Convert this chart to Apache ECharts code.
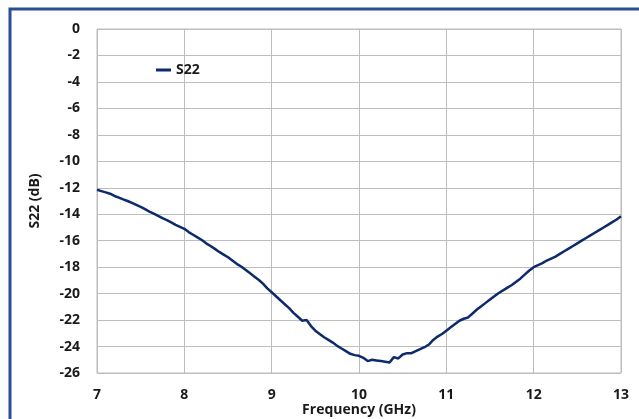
<!DOCTYPE html>
<html>
<head>
<meta charset="utf-8">
<script src="https://cdn.jsdelivr.net/npm/echarts@6/dist/echarts.min.js"></script>
<style>
  html, body { margin: 0; padding: 0; background: #fff; }
  #chart { width: 639px; height: 419px; }
</style>
</head>
<body>
<div id="chart"></div>
<script>
// frequency (GHz) and S22 (dB)
var freq = [7.00, 7.05, 7.10, 7.15, 7.20, 7.25, 7.30, 7.35, 7.40, 7.45,
    7.50, 7.55, 7.60, 7.65, 7.70, 7.75, 7.80, 7.85, 7.90, 7.95,
    8.00, 8.05, 8.10, 8.15, 8.20, 8.25, 8.30, 8.35, 8.40, 8.45,
    8.50, 8.55, 8.60, 8.65, 8.70, 8.75, 8.80, 8.85, 8.90, 8.95,
    9.00, 9.05, 9.10, 9.15, 9.20, 9.25, 9.30, 9.35, 9.40, 9.45,
    9.50, 9.55, 9.60, 9.65, 9.70, 9.75, 9.80, 9.85, 9.90, 9.95,
    10.00, 10.05, 10.10, 10.15, 10.20, 10.25, 10.30, 10.35, 10.40, 10.45,
    10.50, 10.55, 10.60, 10.65, 10.70, 10.75, 10.80, 10.85, 10.90, 10.95,
    11.00, 11.05, 11.10, 11.15, 11.20, 11.25, 11.30, 11.35, 11.40, 11.45,
    11.50, 11.55, 11.60, 11.65, 11.70, 11.75, 11.80, 11.85, 11.90, 11.95,
    12.00, 12.05, 12.10, 12.15, 12.20, 12.25, 12.30, 12.35, 12.40, 12.45,
    12.50, 12.55, 12.60, 12.65, 12.70, 12.75, 12.80, 12.85, 12.90, 12.95,
    13.00]
var s22 = [-12.15, -12.25, -12.35, -12.45, -12.62, -12.75, -12.88, -13.0, -13.15, -13.3,
    -13.45, -13.62, -13.8, -13.95, -14.12, -14.3, -14.45, -14.62, -14.8, -14.95,
    -15.1, -15.35, -15.55, -15.75, -15.95, -16.2, -16.4, -16.62, -16.85, -17.05,
    -17.25, -17.5, -17.75, -17.95, -18.2, -18.45, -18.7, -18.95, -19.25, -19.6,
    -19.9, -20.2, -20.5, -20.8, -21.1, -21.45, -21.75, -22.05, -22.0, -22.45,
    -22.8, -23.05, -23.3, -23.5, -23.7, -23.95, -24.15, -24.35, -24.55, -24.65,
    -24.7, -24.85, -25.1, -25.0, -25.05, -25.1, -25.15, -25.2, -24.8, -24.9,
    -24.6, -24.5, -24.5, -24.35, -24.2, -24.05, -23.85, -23.5, -23.25, -23.05,
    -22.8, -22.55, -22.3, -22.05, -21.9, -21.8, -21.5, -21.2, -20.95, -20.7,
    -20.45, -20.2, -19.95, -19.75, -19.55, -19.35, -19.1, -18.85, -18.55, -18.25,
    -18.0, -17.85, -17.7, -17.5, -17.35, -17.2, -17.0, -16.8, -16.6, -16.4,
    -16.2, -16.0, -15.8, -15.6, -15.4, -15.2, -15.0, -14.8, -14.6, -14.4,
    -14.15]

var lineData = []
for (var i = 0; i < freq.length; i++) {
    lineData.push([freq[i], s22[i]])
}

var myChart = echarts.init(document.getElementById('chart'))
var font = '"Open Sans", sans-serif'
var txt = { fontFamily: font, fontWeight: 'bold', fontSize: 14, color: '#1a1a1a' }
var option = {
    animation: false,
    textStyle: { fontFamily: font },
    graphic: [{
        type: 'rect',
        shape: { x: 10, y: 9, width: 650, height: 430 },
        style: { fill: 'none', stroke: '#2a4d96', lineWidth: 3 },
        silent: true
    }],
    grid: {
        left: 97, right: 18, top: 29, bottom: 46,
        outerBoundsMode: 'none', containLabel: false,
        show: true, borderColor: '#bdbdbd', borderWidth: 1
    },
    legend: {
        left: 151, top: 58,
        itemWidth: 15, itemHeight: 3, itemGap: 6,
        data: [{ name: 'S22', icon: 'rect' }],
        textStyle: txt
    },
    xAxis: {
        type: 'value', min: 7, max: 13, interval: 1,
        name: 'Frequency (GHz)', nameLocation: 'middle', nameGap: 30,
        nameMoveOverlap: false,
        nameTextStyle: txt,
        axisLine: { show: false },
        axisTick: { show: false },
        axisLabel: { margin: 15, fontFamily: font, fontWeight: 'bold', fontSize: 14, color: '#1a1a1a' },
        splitLine: { lineStyle: { color: '#bdbdbd', width: 1 } }
    },
    yAxis: {
        type: 'value', min: -26, max: 0, interval: 2,
        name: 'S22 (dB)', nameLocation: 'middle', nameGap: 55, nameRotate: 90,
        nameTextStyle: txt,
        axisLine: { show: false },
        axisTick: { show: false },
        axisLabel: { margin: 17, fontFamily: font, fontWeight: 'bold', fontSize: 14, color: '#1a1a1a' },
        splitLine: { lineStyle: { color: '#bdbdbd', width: 1 } }
    },
    series: [{
        name: 'S22',
        type: 'line',
        data: lineData,
        showSymbol: false,
        symbol: 'none',
        lineStyle: { color: '#0d2b6b', width: 2.5 },
        itemStyle: { color: '#0d2b6b' }
    }]
}
myChart.setOption(option)
</script>
</body>
</html>
